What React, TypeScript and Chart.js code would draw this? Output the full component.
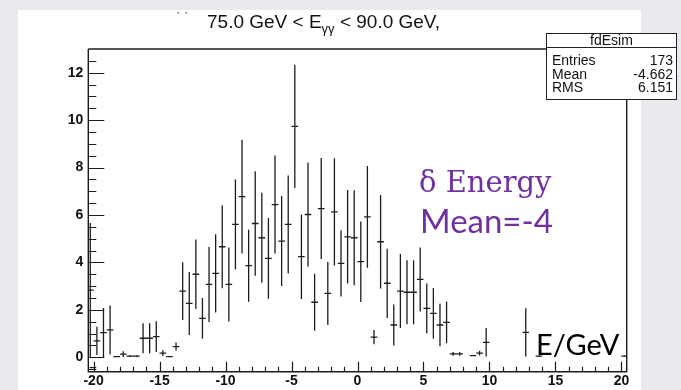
import React, { useEffect, useRef } from "react";
import { Chart, registerables } from "chart.js";

Chart.register(...registerables);

// Histogram bins: width 0.5, first bin centre at -20.25 (82 bins)
const binStart = -20.25;
const binWidth = 0.5;
// bin contents (null = empty bin, not drawn)
const binValues: (number | null)[] = [
  2.83, 0.69, 1.04, 1.15, 0.03, 0.13, 0.05, 0.05, 0.8, 0.8,
  0.87, 0.17, 0.03, 0.45, 2.79, 2.27, 3.5, 1.64, 3.07, 3.54,
  4.66, 3.07, 5.6, 6.77, 3.86, 5.64, 5.04, 4.17, 6.44, 4.9,
  5.6, 9.74, 4.24, 6.02, 2.32, 6.27, 2.69, 6.13, 3.96, 5.08,
  5.04, 4.03, 5.92, 0.85, 4.87, 3.12, 1.36, 2.79, 2.74, 2.74,
  3.28, 2.06, 1.85, 1.36, 1.47, 0.14, 0.14, null, 0.07, 0.17,
  0.63, null, null, null, null, null, 1.05, null, 0.05, null,
  null, null, null, null, null, null, null, null, null, null,
  null, 0.05,
];
// bin errors
const binErrors: (number | null)[] = [
  2.83, 0.6, 1.04, 1.03, 0.02, 0.12, 0.03, 0.03, 0.63, 0.63,
  0.65, 0.12, 0.02, 0.17, 1.22, 1.33, 1.47, 0.86, 1.58, 1.65,
  1.75, 1.56, 1.9, 2.4, 1.52, 2.2, 1.9, 1.7, 2.07, 1.9,
  2.07, 2.6, 1.78, 2.19, 1.2, 2.13, 1.33, 2.26, 1.4, 1.97,
  2.0, 1.7, 2.15, 0.3, 1.97, 1.46, 0.86, 1.56, 1.35, 1.35,
  1.35, 1.05, 1.07, 0.9, 0.88, 0.08, 0.08, null, 0.02, 0.1,
  0.6, null, null, null, null, null, 1.02, null, 0.02, null,
  null, null, null, null, null, null, null, null, null, null,
  null, 0.02,
];
// a lone mark just below zero at the left edge
const belowZeroX = [-20.05];
const belowZeroY = [-0.44];

const xTickValues = [-20, -15, -10, -5, 0, 5, 10, 15, 20];
const yTickValues = [0, 2, 4, 6, 8, 10, 12];
const xRange = [-20.4, 20.4];
const yRange = [-0.61, 13.0];

const statsTitle = "fdEsim";
const statsRows: [string, string][] = [
  ["Entries", "173"],
  ["Mean", "-4.662"],
  ["RMS", "6.151"],
];

const INK = "#1c1c1c";

function buildErrorSegments() {
  const pts: { x: number; y: number | null }[] = [];
  binValues.forEach((v, i) => {
    const e = binErrors[i];
    if (v === null || e === null) return;
    const x = binStart + i * binWidth;
    pts.push({ x, y: v - e }, { x, y: v + e }, { x, y: null });
  });
  return pts;
}

function buildBinSegments() {
  const pts: { x: number; y: number | null }[] = [];
  binValues.forEach((v, i) => {
    if (v === null) return;
    const x = binStart + i * binWidth;
    pts.push(
      { x: x - binWidth / 2, y: v },
      { x: x + binWidth / 2, y: v },
      { x: x + binWidth / 2, y: null }
    );
  });
  return pts;
}

function buildBelowZero() {
  const pts: { x: number; y: number | null }[] = [];
  belowZeroX.forEach((x, i) => {
    pts.push(
      { x: x - binWidth / 2, y: belowZeroY[i] },
      { x: x + binWidth / 2, y: belowZeroY[i] },
      { x: x + binWidth / 2, y: null }
    );
  });
  return pts;
}

const rootFrame = {
  id: "rootFrame",
  afterDatasetsDraw(chart: any) {
    const { ctx, chartArea } = chart;
    const xs = chart.scales.x;
    const ys = chart.scales.y;
    const { left, right, top, bottom } = chartArea;
    ctx.save();
    ctx.strokeStyle = INK;
    ctx.lineWidth = 1.4;
    ctx.beginPath();
    ctx.moveTo(left, top);
    ctx.lineTo(left, bottom);
    ctx.lineTo(right, bottom);
    ctx.lineTo(right, top);
    ctx.lineTo(left, top);
    ctx.stroke();
    ctx.lineWidth = 1.2;
    ctx.beginPath();
    for (let v = -20; v <= 20; v += 1) {
      const px = Math.round(xs.getPixelForValue(v)) + 0.5;
      const len = v % 5 === 0 ? 10 : 5;
      ctx.moveTo(px, bottom);
      ctx.lineTo(px, bottom - len);
    }
    for (let v = -0.5; v <= 12.75; v += 0.5) {
      const py = Math.round(ys.getPixelForValue(v)) + 0.5;
      const len = Math.abs(v % 2) < 1e-9 ? 16 : 8;
      ctx.moveTo(left, py);
      ctx.lineTo(left + len, py);
    }
    ctx.stroke();
    ctx.restore();
  },
};

function HistChart() {
  const ref = useRef<HTMLCanvasElement | null>(null);
  useEffect(() => {
    if (!ref.current) return;
    const seg = (label: string, data: any[]) => ({
      label,
      data,
      borderColor: INK,
      borderWidth: 1.3,
      pointRadius: 0,
      spanGaps: false,
      tension: 0,
    });
    const chart = new Chart(ref.current, {
      type: "line",
      data: {
        datasets: [
          seg("errors", buildErrorSegments()),
          seg("bins", buildBinSegments()),
          seg("below", buildBelowZero()),
        ],
      },
      options: {
        animation: false,
        responsive: false,
        devicePixelRatio: 1,
        events: [],
        layout: { padding: { top: 49, right: 54.3, left: 0, bottom: 0 } },
        plugins: { legend: { display: false }, tooltip: { enabled: false }, title: { display: false } },
        scales: {
          x: {
            type: "linear",
            min: xRange[0],
            max: xRange[1],
            border: { display: false },
            grid: { display: false, drawTicks: false },
            afterBuildTicks: (s: any) => {
              s.ticks = xTickValues.map((v) => ({ value: v }));
            },
            afterFit: (s: any) => {
              s.height = 18.3;
            },
            ticks: {
              autoSkip: false,
              maxRotation: 0,
              padding: 1,
              color: "#111",
              font: { family: "Liberation Sans", size: 14, weight: "bold" },
              callback: (v: any) => String(v),
            },
          },
          y: {
            type: "linear",
            min: yRange[0],
            max: yRange[1],
            border: { display: false },
            grid: { display: false, drawTicks: false },
            afterBuildTicks: (s: any) => {
              s.ticks = yTickValues.map((v) => ({ value: v }));
            },
            afterFit: (s: any) => {
              s.width = 88.3;
            },
            ticks: {
              autoSkip: false,
              padding: 5,
              color: "#111",
              font: { family: "Liberation Sans", size: 14, weight: "bold" },
              callback: (v: any) => String(v),
            },
          },
        },
      },
      plugins: [rootFrame],
    });
    return () => chart.destroy();
  }, []);
  return (
    <canvas
      ref={ref}
      width={681}
      height={390}
      style={{ position: "absolute", left: 0, top: 0, width: 681, height: 390 }}
    />
  );
}

export default function App() {
  return (
    <div
      style={{
        position: "fixed",
        left: 0,
        top: 0,
        width: 681,
        height: 390,
        background: "#e8eaee",
        overflow: "hidden",
      }}
    >
      <div
        style={{
          position: "absolute",
          left: 18,
          top: 10,
          width: 623,
          height: 380,
          background: "#ffffff",
        }}
      />
      <HistChart />
      <div
        style={{
          position: "absolute",
          left: 176,
          top: 4,
          fontFamily: "Liberation Sans",
          fontSize: 13,
          color: "#333",
          whiteSpace: "nowrap",
          lineHeight: "16px",
        }}
      >
        · ·
      </div>
      <div
        style={{
          position: "absolute",
          left: 207,
          top: 11,
          fontFamily: "Liberation Sans",
          fontSize: 19,
          color: "#111",
          whiteSpace: "nowrap",
          lineHeight: "22px",
        }}
      >
        75.0 GeV &lt; E
        <sub style={{ fontSize: 13, verticalAlign: "-5px" }}>γγ</sub> &lt; 90.0 GeV,
      </div>
      <div
        style={{
          position: "absolute",
          left: 546,
          top: 33,
          width: 131,
          height: 67,
          border: "1px solid #222",
          background: "#fff",
          fontFamily: "Liberation Sans",
          fontSize: 14,
          color: "#111",
          boxSizing: "border-box",
        }}
      >
        <div style={{ textAlign: "center", borderBottom: "1px solid #222", height: 13, lineHeight: "13px" }}>
          {statsTitle}
        </div>
        <div style={{ paddingTop: 6 }}>
          {statsRows.map(([k, v]) => (
            <div
              key={k}
              style={{ display: "flex", justifyContent: "space-between", padding: "0 3px 0 5px", height: 13.5, lineHeight: "13.5px" }}
            >
              <span>{k}</span>
              <span>{v}</span>
            </div>
          ))}
        </div>
      </div>
      <div
        style={{
          position: "absolute",
          left: 419,
          top: 165,
          color: "#7030a0",
          whiteSpace: "nowrap",
          fontFamily: "DejaVu Serif",
          fontSize: 29,
          lineHeight: "34px",
        }}
      >
        δ Energy
      </div>
      <div
        style={{
          position: "absolute",
          left: 420,
          top: 201,
          color: "#7030a0",
          whiteSpace: "nowrap",
          fontFamily: "Lato",
          fontSize: 33,
          lineHeight: "38px",
        }}
      >
        Mean=-4
      </div>
      <div
        style={{
          position: "absolute",
          left: 536,
          top: 326,
          fontFamily: "Lato",
          fontSize: 29,
          color: "#000",
          whiteSpace: "nowrap",
          lineHeight: "36px",
        }}
      >
        E/GeV
      </div>
    </div>
  );
}
